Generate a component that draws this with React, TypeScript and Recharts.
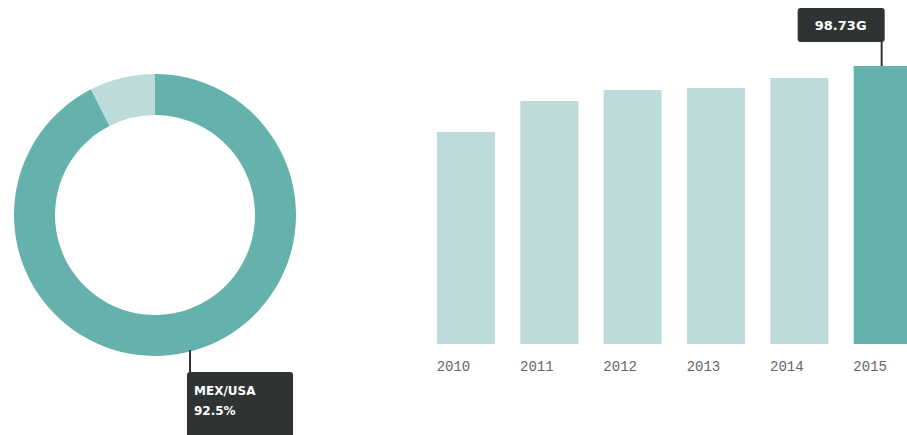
import React from "react"
import { BarChart, Bar, XAxis, YAxis, PieChart, Pie, Cell, LabelList } from "recharts"

const years = ["2010", "2011", "2012", "2013", "2014", "2015"]
const exportValues = [75.3, 86.3, 90.2, 90.9, 94.5, 98.73]
const highlightYear = "2015"

const shareNames = ["MEX/USA", "Other"]
const shareValues = [92.5, 7.5]

const darkTeal = "#65b1ab"
const lightTeal = "#bddbda"
const tipBg = "#2f3333"

const barData = years.map((year, i) => ({ year, value: exportValues[i] }))
const pieData = shareNames.map((name, i) => ({ name, value: shareValues[i] }))

const YearTick = (props: any) => {
  const { x, y, payload } = props
  return (
    <text
      x={x - 29}
      y={y + 19}
      textAnchor="start"
      fill="#666"
      fontSize={14}
      fontFamily="'Liberation Mono', 'DejaVu Sans Mono', monospace"
    >
      {payload.value}
    </text>
  )
}

const BarTip = (props: any) => {
  const { x, y, width, value, index } = props
  if (years[index] !== highlightYear) return null
  const cx = x + width / 2
  return (
    <g>
      <line x1={cx - 1} y1={y - 24} x2={cx - 1} y2={y} stroke={tipBg} strokeWidth={2} />
      <rect x={cx - 85} y={y - 58} width={87} height={34} rx={3} fill={tipBg} />
      <text
        x={cx - 42}
        y={y - 36}
        textAnchor="middle"
        fill="#fff"
        fontSize={13}
        fontWeight="bold"
        fontFamily="'DejaVu Sans', sans-serif"
      >
        {`${value}G`}
      </text>
    </g>
  )
}

export default function App() {
  return (
    <div
      style={{
        position: "absolute",
        left: 0,
        top: 0,
        width: 907,
        height: 435,
        overflow: "hidden",
        background: "#fff",
      }}
    >
      <div style={{ position: "absolute", left: 0, top: 0 }}>
        <PieChart width={310} height={435}>
          <Pie
            data={pieData}
            dataKey="value"
            nameKey="name"
            cx={150}
            cy={210}
            innerRadius={100}
            outerRadius={141}
            startAngle={90}
            endAngle={-270}
            stroke="none"
            isAnimationActive={false}
          >
            {pieData.map((d, i) => (
              <Cell key={d.name} fill={i === 0 ? darkTeal : lightTeal} />
            ))}
          </Pie>
        </PieChart>
      </div>

      {/* hover tip on the donut */}
      <div style={{ position: "absolute", left: 189, top: 350, width: 2, height: 22, background: tipBg }} />
      <div
        style={{
          position: "absolute",
          left: 187,
          top: 372,
          width: 106,
          height: 70,
          background: tipBg,
          borderRadius: 3,
          color: "#fff",
          fontFamily: "'DejaVu Sans', sans-serif",
          fontSize: 12,
          fontWeight: "bold",
          lineHeight: "20px",
          padding: "9px 0 0 7px",
          boxSizing: "border-box",
        }}
      >
        <div>{pieData[0].name}</div>
        <div>{`${pieData[0].value}%`}</div>
      </div>

      <div style={{ position: "absolute", left: 424, top: 0 }}>
        <BarChart
          width={500}
          height={435}
          data={barData}
          margin={{ top: 66, right: 0, left: 0, bottom: 0 }}
        >
          <XAxis
            dataKey="year"
            axisLine={false}
            tickLine={false}
            height={91}
            interval={0}
            tick={<YearTick />}
          />
          <YAxis hide domain={[0, 98.73]} />
          <Bar dataKey="value" barSize={58} isAnimationActive={false}>
            {barData.map((d) => (
              <Cell key={d.year} fill={d.year === highlightYear ? darkTeal : lightTeal} />
            ))}
            <LabelList dataKey="value" content={<BarTip />} />
          </Bar>
        </BarChart>
      </div>
    </div>
  )
}
